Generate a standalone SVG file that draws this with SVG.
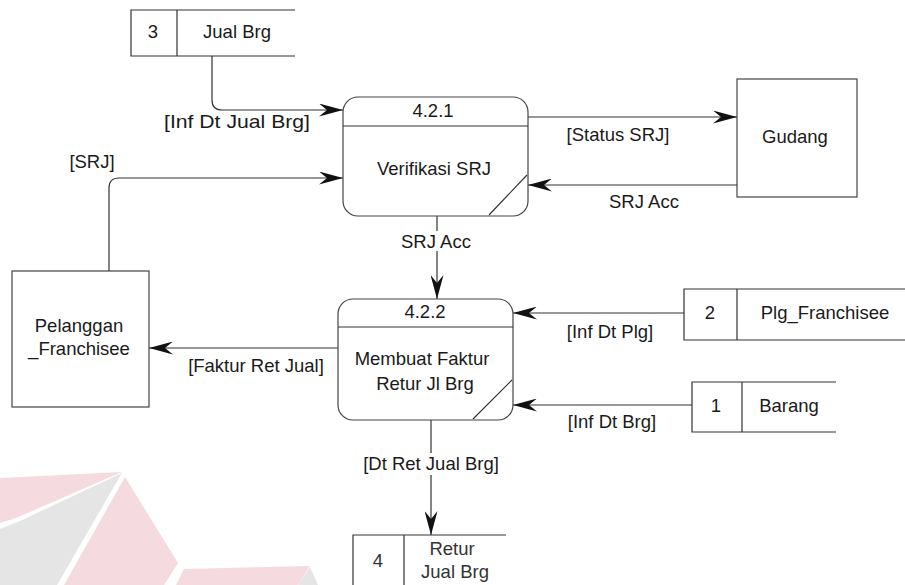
<svg xmlns="http://www.w3.org/2000/svg" width="905" height="585" viewBox="0 0 905 585">
  <style>
    text { font-family: "Liberation Sans", Arial, sans-serif; font-size: 18.5px; fill: #1a1a1a; text-anchor: middle; }
    .box { fill: #ffffff; stroke: #444444; stroke-width: 1.2; }
    .ln { fill: none; stroke: #333333; stroke-width: 1.2; }
    .flow { fill: none; stroke: #333333; stroke-width: 1.2; marker-end: url(#arrow); }
    .lbl-bg { fill: #ffffff; }
    .soft { fill: #333333; }
  </style>
  <defs>
    <marker id="arrow" markerUnits="userSpaceOnUse" markerWidth="24" markerHeight="13" refX="24" refY="6.5" orient="auto">
      <path d="M0,0 L24,6.5 L0,13 L8,6.5 Z" fill="#111111"/>
    </marker>
  </defs>

  <!-- faint logo in the background -->
  <g id="logo" opacity="0.9">
    <polygon points="0,478 122,472 16,518 0,523" fill="#f4d8dc"/>
    <polygon points="122,473 20,521 0,529 0,585 57,585 119,478" fill="#e3e3e3"/>
    <polygon points="125,477 178,563 164,585 64,585" fill="#f4d8dc"/>
    <polygon points="184,569 310,566 298,585 176,585" fill="#f4d8dc"/>
    <polygon points="310,567 318,585 298,585" fill="#e3e3e3"/>
  </g>

  <!-- data flows -->
  <g id="connectors">
    <path class="flow" d="M212,56 V100 Q212,110 222,110 H343"/>
    <path class="flow" d="M109,271 V188 Q109,178 119,178 H343"/>
    <path class="flow" d="M528,117 H737"/>
    <path class="flow" d="M737,185 H528"/>
    <path class="flow" d="M437,216 V299"/>
    <path class="flow" d="M338,348 H149"/>
    <path class="flow" d="M684,313 H513"/>
    <path class="flow" d="M692,405 H513"/>
    <path class="flow" d="M431,420 V535"/>

    <text x="237" y="128" textLength="146" lengthAdjust="spacingAndGlyphs">[Inf Dt Jual Brg]</text>
    <text x="92" y="168">[SRJ]</text>
    <text x="618" y="141">[Status SRJ]</text>
    <text x="644" y="208">SRJ Acc</text>
    <rect class="lbl-bg" x="401" y="231" width="72" height="20"/>
    <text x="436" y="248">SRJ Acc</text>
    <text x="256" y="372">[Faktur Ret Jual]</text>
    <text x="610" y="338">[Inf Dt Plg]</text>
    <text x="612" y="428">[Inf Dt Brg]</text>
    <rect class="lbl-bg" x="362" y="453" width="138" height="22"/>
    <text x="431" y="470">[Dt Ret Jual Brg]</text>
  </g>

  <!-- data store 3 -->
  <g id="store-jual-brg">
    <path class="ln" d="M295,10 H131 V56 H295 M177,10 V56"/>
    <text x="153" y="38">3</text>
    <text x="237" y="38">Jual Brg</text>
  </g>

  <!-- process 4.2.1 -->
  <g id="proc-421">
    <rect class="box" x="343" y="97" width="185" height="119" rx="15" ry="15"/>
    <path class="ln" d="M343,126 H528 M489,215 L527,175"/>
    <text x="433" y="117">4.2.1</text>
    <text x="434" y="175">Verifikasi SRJ</text>
  </g>

  <!-- external entity Gudang -->
  <g id="ext-gudang">
    <rect class="box" x="737" y="79" width="120" height="118"/>
    <text x="795" y="143">Gudang</text>
  </g>

  <!-- external entity Pelanggan_Franchisee -->
  <g id="ext-pelanggan">
    <rect class="box" x="12" y="271" width="137" height="136"/>
    <text x="79" y="332">Pelanggan</text>
    <text x="79" y="355">_Franchisee</text>
  </g>

  <!-- process 4.2.2 -->
  <g id="proc-422">
    <rect class="box" x="338" y="299" width="175" height="121" rx="15" ry="15"/>
    <path class="ln" d="M338,327 H513 M473,419 L512,380"/>
    <text x="425" y="318">4.2.2</text>
    <text x="422" y="365">Membuat Faktur</text>
    <text x="425" y="390">Retur Jl Brg</text>
  </g>

  <!-- data store 2 -->
  <g id="store-plg">
    <path class="ln" d="M905,289 H684 V340 H905 M737,289 V340"/>
    <text x="710" y="319">2</text>
    <text x="825" y="319">Plg_Franchisee</text>
  </g>

  <!-- data store 1 -->
  <g id="store-barang">
    <path class="ln" d="M836,382 H692 V432 H836 M742,382 V432"/>
    <text x="716" y="412">1</text>
    <text x="789" y="412">Barang</text>
  </g>

  <!-- data store 4 -->
  <g id="store-retur">
    <path class="ln" d="M506,535 H353 V585 M404,535 V585"/>
    <text class="soft" x="378" y="567">4</text>
    <text class="soft" x="452" y="555">Retur</text>
    <text class="soft" x="455" y="578">Jual Brg</text>
  </g>
</svg>
